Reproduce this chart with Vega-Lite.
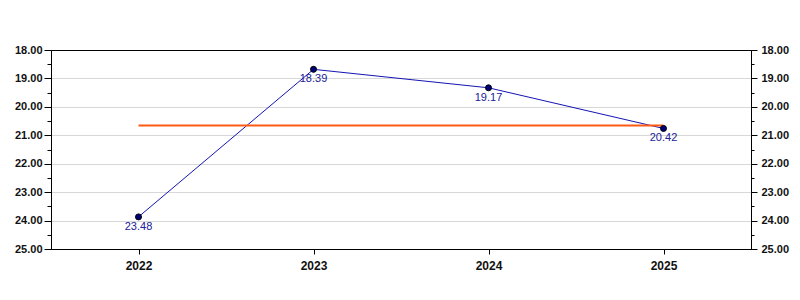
{
  "$schema": "https://vega.github.io/schema/vega-lite/v6.json",
  "width": 700,
  "height": 199,
  "autosize": "none",
  "padding": {"left": 51, "top": 50, "right": 49, "bottom": 51},
  "background": "white",
  "config": {
    "view": {"stroke": "black", "strokeWidth": 1},
    "font": "Liberation Sans"
  },
  "data": {
    "values": [
      {"year": "2022", "value": 23.87, "label": "23.48"},
      {"year": "2023", "value": 18.68, "label": "18.39"},
      {"year": "2024", "value": 19.33, "label": "19.17"},
      {"year": "2025", "value": 20.76, "label": "20.42"}
    ]
  },
  "encoding": {
    "x": {
      "field": "year",
      "type": "ordinal",
      "scale": {"type": "point", "padding": 0.5},
      "axis": {
        "title": null,
        "labelAngle": 0,
        "labelFont": "Liberation Sans",
        "labelFontSize": 12,
        "labelFontWeight": "bold",
        "labelColor": "#111",
        "tickColor": "black",
        "tickSize": 5,
        "domainColor": "black",
        "labelPadding": 6,
        "grid": false
      }
    }
  },
  "layer": [
    {
      "mark": {"type": "line", "color": "#1414b4", "strokeWidth": 1},
      "encoding": {
        "y": {
          "field": "value",
          "type": "quantitative",
          "scale": {"domain": [18, 25], "reverse": true, "nice": false, "zero": false},
          "axis": {
            "orient": "left",
            "title": null,
            "values": [18, 18.5, 19, 19.5, 20, 20.5, 21, 21.5, 22, 22.5, 23, 23.5, 24, 24.5, 25],
            "labelExpr": "datum.value % 1 === 0 ? format(datum.value, '.2f') : ''",
            "labelFont": "Liberation Sans",
            "labelFontSize": 11,
            "labelFontWeight": "bold",
            "labelColor": "#111",
            "labelPadding": 2,
            "tickColor": "black",
            "tickSize": {"expr": "datum.value % 1 === 0 ? 7 : 4"},
            "domainColor": "black",
            "grid": true,
            "gridColor": "#d8d8d8",
            "gridOpacity": {"expr": "datum.value % 1 === 0 && datum.value > 18 && datum.value < 25 ? 1 : 0"}
          }
        }
      }
    },
    {
      "transform": [{"joinaggregate": [{"op": "mean", "field": "value", "as": "avg"}]}],
      "mark": {"type": "line", "color": "#ff5a14", "strokeWidth": 2},
      "encoding": {
        "y": {
          "field": "avg",
          "type": "quantitative",
          "axis": {
            "orient": "right",
            "title": null,
            "values": [18, 18.5, 19, 19.5, 20, 20.5, 21, 21.5, 22, 22.5, 23, 23.5, 24, 24.5, 25],
            "labelExpr": "datum.value % 1 === 0 ? format(datum.value, '.2f') : ''",
            "labelFont": "Liberation Sans",
            "labelFontSize": 11,
            "labelFontWeight": "bold",
            "labelColor": "#111",
            "labelPadding": 4,
            "tickColor": "black",
            "tickSize": {"expr": "datum.value % 1 === 0 ? 6 : 3"},
            "domainColor": "black",
            "grid": false
          }
        }
      }
    },
    {
      "mark": {"type": "point", "filled": true, "color": "#00007a", "stroke": "black", "strokeWidth": 1, "size": 36, "opacity": 1},
      "encoding": {
        "y": {"field": "value", "type": "quantitative", "axis": null}
      }
    },
    {
      "mark": {"type": "text", "color": "#20209a", "fontSize": 11, "font": "Liberation Sans", "dy": 10, "baseline": "middle"},
      "encoding": {
        "y": {"field": "value", "type": "quantitative", "axis": null},
        "text": {"field": "label"}
      }
    }
  ],
  "resolve": {"axis": {"y": "independent"}}
}
